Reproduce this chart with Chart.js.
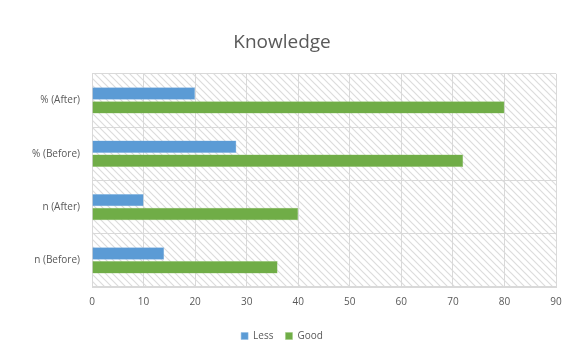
<!DOCTYPE html>
<html lang="en">
<head>
    <meta charset="UTF-8">
    <title>Knowledge</title>
    <script src="https://cdn.jsdelivr.net/npm/chart.js@4/dist/chart.umd.min.js"></script>
    <style>
        * { margin: 0; padding: 0; box-sizing: border-box; }
        body { background: #ffffff; width: 565px; height: 343px; overflow: hidden; }
    </style>
</head>
<body>
    <canvas id="chart" width="565" height="343"></canvas>
    <script>
        const categories = ["% (After)", "% (Before)", "n (After)", "n (Before)"];
        const lessValues = [20, 28, 10, 14];
        const goodValues = [80, 72, 40, 36];
        const xTicks = [0, 10, 20, 30, 40, 50, 60, 70, 80, 90];

        const gray = "#595959";

        // diagonal hatch for the plot area
        const makeHatch = () => {
            const c = document.createElement("canvas");
            c.width = 7;
            c.height = 7;
            const g = c.getContext("2d");
            g.fillStyle = "#ffffff";
            g.fillRect(0, 0, 7, 7);
            g.strokeStyle = "#dcdcdc";
            g.lineWidth = 1.2;
            g.beginPath();
            g.moveTo(-1, -1); g.lineTo(8, 8);
            g.moveTo(-8, -1); g.lineTo(1, 8);
            g.moveTo(6, -1); g.lineTo(15, 8);
            g.stroke();
            return g.createPattern(c, "repeat");
        };

        const hatchPlugin = {
            id: "hatch",
            afterLayout(chart) {
                // push the legend a bit lower, closer to the bottom edge
                chart.legend.top += 8;
                chart.legend.bottom += 8;
            },
            beforeDraw(chart) {
                const { ctx, chartArea: a } = chart;
                ctx.save();
                ctx.fillStyle = makeHatch();
                ctx.fillRect(a.left, a.top, a.right - a.left, a.bottom - a.top);
                ctx.restore();
            }
        };

        new Chart(document.getElementById("chart"), {
            type: "bar",
            plugins: [hatchPlugin],
            data: {
                labels: categories,
                datasets: [
                    { label: "Less", data: lessValues, backgroundColor: "#5b9bd5", borderColor: "#8fbbe3", borderWidth: 0.5 },
                    { label: "Good", data: goodValues, backgroundColor: "#70ad47", borderColor: "#9bc87c", borderWidth: 0.5 }
                ]
            },
            options: {
                indexAxis: "y",
                responsive: false,
                animation: false,
                categoryPercentage: 0.52,
                barPercentage: 0.9,
                layout: { padding: { top: 31, left: 8, right: 9, bottom: 0 } },
                scales: {
                    x: {
                        min: 0,
                        max: 90,
                        afterBuildTicks: (s) => { s.ticks = xTicks.map(v => ({ value: v })); },
                        afterFit: (s) => { s.paddingRight = 6; s.height -= 6; },
                        grid: { color: "#d9d9d9", drawTicks: false },
                        border: { color: "#d9d9d9" },
                        ticks: { color: gray, padding: 9, font: { family: "Open Sans", size: 10 } }
                    },
                    y: {
                        grid: { color: "#d9d9d9", offset: true, drawTicks: false },
                        border: { color: "#d9d9d9" },
                        ticks: { color: gray, padding: 12, font: { family: "Open Sans", size: 10 } },
                        afterFit: (s) => { s.width = 84; }
                    }
                },
                plugins: {
                    tooltip: { enabled: false },
                    title: {
                        display: true,
                        text: "Knowledge",
                        color: gray,
                        padding: { top: 0, bottom: 20 },
                        font: { family: "Open Sans", size: 19, weight: "normal" }
                    },
                    legend: {
                        position: "bottom",
                        labels: {
                            color: gray,
                            boxWidth: 7,
                            boxHeight: 7,
                            padding: 12,
                            font: { family: "Open Sans", size: 10 }
                        }
                    }
                }
            }
        });
    </script>
</body>
</html>
